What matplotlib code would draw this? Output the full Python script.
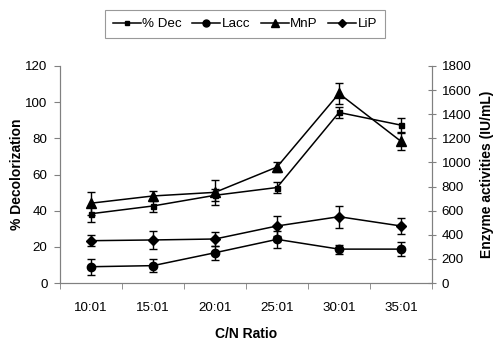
import numpy as np
import matplotlib.pyplot as plt
from matplotlib.lines import Line2D

plt.rcParams['font.family'] = ['Liberation Sans', 'DejaVu Sans']

# C/N ratio categories
ratios = ['10:01', '15:01', '20:01', '25:01', '30:01', '35:01']

# % decolorization (left axis)
dec = [38.3, 42.6, 48.5, 52.8, 94.3, 87.3]
dec_err = [4.3, 3.1, 3.3, 2.9, 3.0, 3.9]

# enzyme activities IU/mL (right axis)
lacc = [135, 144, 251, 362, 281, 281]
lacc_err = [66, 55, 58, 69, 37, 61]
mnp = [662, 722, 752, 962, 1572, 1175]
mnp_err = [96, 44, 105, 41, 90, 72]
lip = [351, 357, 365, 473, 550, 473]
lip_err = [46, 75, 55, 83, 91, 69]

W, H = 500, 346
fig = plt.figure(figsize=(W / 100, H / 100), dpi=100)
ax = fig.add_axes([60 / W, (H - 283) / H, 372 / W, 217 / H])
ax2 = ax.twinx()

x = np.arange(len(ratios))
grey = '#808080'
fs = 9.6
kw = dict(color='black', ecolor='black', lw=1.1, elinewidth=1.0,
          capsize=3.2, capthick=1.0)

ax.errorbar(x, dec, yerr=dec_err, marker='s', ms=3.6, **kw)
ax2.errorbar(x, lacc, yerr=lacc_err, marker='o', ms=6, **kw)
ax2.errorbar(x, mnp, yerr=mnp_err, marker='^', ms=6.5, **kw)
ax2.errorbar(x, lip, yerr=lip_err, marker='D', ms=5, **kw)

ax.set_xlim(-0.5, len(ratios) - 0.5)
ax.set_ylim(0, 120)
ax.set_yticks(np.arange(0, 121, 20))
ax2.set_ylim(0, 1800)
ax2.set_yticks(np.arange(0, 1801, 200))

# category labels in the middle, ticks between categories
ax.set_xticks(x)
ax.set_xticklabels(ratios)
ax.set_xticks(np.arange(-0.5, len(ratios)), minor=True)
ax.tick_params(axis='x', which='major', length=0, pad=14, labelsize=fs)
ax.tick_params(axis='x', which='minor', length=4, color=grey, direction='out')
ax.tick_params(axis='y', length=4, color=grey, labelsize=fs, pad=5)
ax2.tick_params(axis='y', length=6, color=grey, direction='inout',
                labelsize=fs, pad=4)

for a in (ax, ax2):
    a.spines['top'].set_visible(False)
    for s in ('left', 'right', 'bottom'):
        a.spines[s].set_color(grey)
        a.spines[s].set_linewidth(0.8)

ax.set_xlabel('C/N Ratio', fontsize=10, fontweight='bold', labelpad=9)
ax.set_ylabel('% Decolorization', fontsize=10, fontweight='bold', labelpad=1)
ax2.set_ylabel('Enzyme activities (IU/mL)', fontsize=10, fontweight='bold',
               labelpad=6.5)

# legend shows plain line + marker
handles = [Line2D([], [], color='black', lw=1.1, marker=m, ms=s)
           for m, s in (('s', 3.2), ('o', 5), ('^', 5.5), ('D', 4.2))]
leg = fig.legend(handles, ['% Dec', 'Lacc', 'MnP', 'LiP'],
                 loc='center', bbox_to_anchor=(245 / W, 1 - 24 / H), ncol=4,
                 fontsize=fs, frameon=True, fancybox=False, handlelength=2.1,
                 handletextpad=0.1, columnspacing=0.8, borderpad=0.6)
leg.get_frame().set_edgecolor(grey)
leg.get_frame().set_linewidth(0.8)

fig.savefig('out.png', dpi=100)
